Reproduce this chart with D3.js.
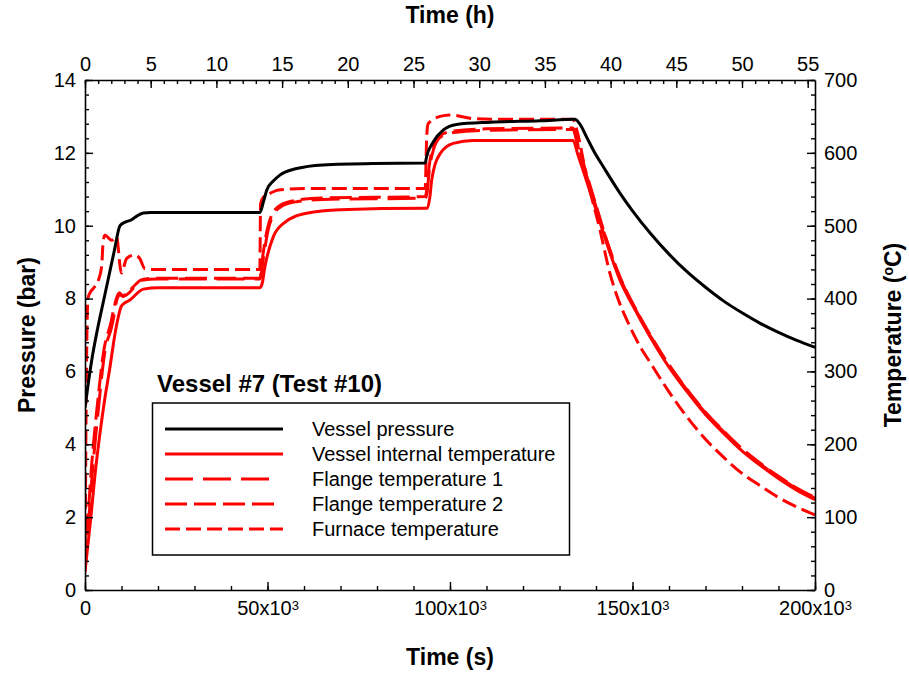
<!DOCTYPE html>
<html>
<head>
<meta charset="utf-8">
<script src="https://cdn.jsdelivr.net/npm/d3@7"></script>
<style>
  body { margin: 0; background: #fff; }
  text { font-family: "Liberation Sans", Arial, sans-serif; fill: #000; }
</style>
</head>
<body>
<svg id="chart" width="909" height="674"></svg>
<script>
// ---- data (time in s, pressure in bar, temperatures in degC) ----
const timeP = [0, 800, 2000, 3500, 5000, 6500, 8000, 9600, 11000, 12500, 14000, 16000, 18000, 30000, 47900,
  49000, 49800, 51500, 53400, 58000, 65200, 79000, 93200, 93600, 95400, 98200, 101800, 111000, 124700, 134200,
  135500, 137400, 139500, 142000, 146600, 150000, 155000, 160000, 165000, 170000, 175000, 180000, 185000,
  190000, 195000, 200000];
const pressure = [5.0, 5.6, 6.4, 7.2, 7.9, 8.6, 9.3, 10.0, 10.1, 10.15, 10.25, 10.35, 10.36, 10.36, 10.36,
  10.7, 10.98, 11.22, 11.39, 11.57, 11.67, 11.71, 11.72, 11.9, 12.3, 12.63, 12.78, 12.84, 12.88, 12.92,
  12.8, 12.44, 12.03, 11.62, 10.89, 10.41, 9.78, 9.22, 8.73, 8.31, 7.93, 7.61, 7.32,
  7.07, 6.85, 6.66];

const timeInt = [0, 1500, 3000, 4100, 5500, 6850, 8000, 9000, 10000, 12300, 16000, 20000, 47900,
  48500, 49300, 51600, 54300, 60700, 69900, 92700, 93800, 94500, 95000, 97300, 100900, 106400, 133700,
  135000, 137000, 140000, 143000, 146600, 150000, 155000, 160000, 165000, 170000, 175000, 180000,
  185000, 190000, 195000, 200000];
const tempInt = [25, 95, 170, 215, 265, 306, 345, 372, 390, 398, 413, 415, 415,
  420, 444, 485, 503, 517, 522, 524, 524, 540, 563, 599, 613, 617, 617,
  598, 568, 522, 475, 425, 391, 346, 306, 272, 241, 215, 191,
  171, 153, 137, 124];

const timeF1 = [0, 800, 2000, 3500, 5500, 7300, 8200, 8700, 9600, 10500, 12300, 14100, 15500, 20000, 47900,
  49000, 50000, 51600, 54000, 58000, 65000, 93200, 93700, 94300, 95500, 97500, 101000, 110000, 133700,
  135000, 137000, 140000, 143000, 146600, 150000, 155000, 160000, 165000, 170000, 175000, 180000,
  185000, 190000, 195000, 200000];
const tempF1 = [30, 80, 160, 240, 329, 361, 384, 398, 405, 403, 409, 419, 425, 427, 427,
  460, 490, 515, 527, 533, 536, 538, 545, 575, 605, 622, 628, 631, 632,
  610, 575, 526, 478, 428, 393, 348, 308, 274, 243, 217, 193,
  173, 155, 139, 126];

const timeF2 = [0, 700, 1800, 3300, 5200, 7000, 8000, 8600, 9400, 10300, 12000, 14000, 15500, 20000, 47900,
  48800, 49800, 51400, 53800, 58000, 65000, 93200, 93600, 94200, 95300, 97300, 101000, 110000, 133700,
  135000, 137000, 140000, 143000, 146600, 150000, 155000, 160000, 165000, 170000, 175000, 180000,
  185000, 190000, 195000, 200000];
const tempF2 = [35, 90, 170, 250, 330, 365, 388, 400, 408, 404, 410, 420, 426, 428, 428,
  462, 492, 517, 529, 535, 538, 540, 548, 578, 608, 624, 630, 633, 634,
  612, 578, 528, 479, 429, 394, 349, 309, 275, 244, 218, 194,
  174, 156, 140, 127];

const timeFur = [0, 400, 800, 1500, 2300, 3650, 4560, 5000, 5480, 7300, 8700, 9100, 9600, 10000, 11400,
  13700, 15000, 16400, 18000, 47900, 48100, 49000, 50500, 53000, 60000, 93200, 93600, 94000, 97300,
  100000, 106400, 115000, 133700, 134800, 137400, 141100, 143800, 146000, 148500, 152000, 155000,
  160000, 165000, 170000, 175000, 180000, 185000, 190000, 195000, 200000];
const tempFur = [25, 300, 400, 409, 414, 425, 444, 480, 487, 480, 485, 470, 444, 435, 455,
  460, 455, 441, 440, 440, 530, 540, 544, 549, 551, 551, 620, 640, 650,
  652, 647, 646, 646, 630, 568, 494, 435, 400, 370, 335, 311,
  272, 237, 207, 182, 160, 143, 127, 114, 103];

// ---- ticks and labels ----
const secTicks = [0, 50000, 100000, 150000, 200000];
const secMinor = d3.range(0, 200001, 10000);
const hourTicks = [0, 5, 10, 15, 20, 25, 30, 35, 40, 45, 50, 55];
const hourMinor = d3.range(0, 56, 1);
const pressureTicks = [0, 2, 4, 6, 8, 10, 12, 14];
const pressureMinor = d3.range(0, 14.01, 0.4);
const tempTicks = [0, 100, 200, 300, 400, 500, 600, 700];
const tempMinor = d3.range(0, 701, 20);

const legendTitle = "Vessel #7 (Test #10)";
const legendLabels = ["Vessel pressure", "Vessel internal temperature", "Flange temperature 1",
  "Flange temperature 2", "Furnace temperature"];

// ---- layout ----
const svg = d3.select("#chart");
const box = { left: 85, right: 815, top: 80, bottom: 590 };

const x = d3.scaleLinear().domain([0, 200000]).range([box.left, box.right]);
const xh = d3.scaleLinear().domain([0, 200000 / 3600]).range([box.left, box.right]);
const yP = d3.scaleLinear().domain([0, 14]).range([box.bottom, box.top]);
const yT = d3.scaleLinear().domain([0, 700]).range([box.bottom, box.top]);

svg.append("rect").attr("width", 909).attr("height", 674).attr("fill", "#fff");

svg.append("clipPath").attr("id", "clip")
  .append("rect").attr("x", box.left).attr("y", box.top)
  .attr("width", box.right - box.left).attr("height", box.bottom - box.top);

// series
const series = [
  { t: timeP, v: pressure, y: yP, color: "#000", dash: null },
  { t: timeInt, v: tempInt, y: yT, color: "#ff0000", dash: null },
  { t: timeF1, v: tempF1, y: yT, color: "#ff0000", dash: "28,10" },
  { t: timeF2, v: tempF2, y: yT, color: "#ff0000", dash: "22,7" },
  { t: timeFur, v: tempFur, y: yT, color: "#ff0000", dash: "15,6" }
];

const plot = svg.append("g").attr("clip-path", "url(#clip)");
// temperatures first, pressure on top
[4, 3, 2, 1, 0].forEach(i => {
  const s = series[i];
  const pts = s.t.map((t, j) => [t, s.v[j]]);
  const line = d3.line()
    .x(d => x(d[0]))
    .y(d => s.y(d[1]))
    .curve(d3.curveMonotoneX);
  plot.append("path")
    .datum(pts)
    .attr("d", line)
    .attr("fill", "none")
    .attr("stroke", s.color)
    .attr("stroke-width", 3)
    .attr("stroke-dasharray", s.dash);
});

// ---- axes ----
function styleAxis(g) {
  g.select(".domain").attr("stroke", "#000").attr("stroke-width", 1.6);
  g.selectAll(".tick line").attr("stroke", "#000").attr("stroke-width", 1.4);
  g.selectAll(".tick text").attr("font-size", 20).attr("fill", "#000")
    .attr("font-family", "'Liberation Sans', Arial, sans-serif");
}
function minorTicks(axis, vals, pos) {
  svg.append("g").attr("transform", pos)
    .call(axis.tickValues(vals).tickSizeInner(-4).tickSizeOuter(0).tickFormat(""))
    .call(g => g.select(".domain").remove())
    .selectAll(".tick line").attr("stroke", "#000").attr("stroke-width", 1.4);
}

// bottom
minorTicks(d3.axisBottom(x), secMinor, `translate(0,${box.bottom})`);
const gx = svg.append("g").attr("transform", `translate(0,${box.bottom})`)
  .call(d3.axisBottom(x).tickValues(secTicks).tickSizeInner(-8).tickSizeOuter(0).tickPadding(11)
    .tickFormat(d => d === 0 ? "0" : ""))
  .call(styleAxis);
gx.selectAll(".tick text").each(function (d) {
  if (d === 0) return;
  const t = d3.select(this);
  t.append("tspan").text((d / 1000) + "x10");
  t.append("tspan").text("3").attr("font-size", 13).attr("dy", "-0.38em");
});

// top
minorTicks(d3.axisTop(xh), hourMinor, `translate(0,${box.top})`);
svg.append("g").attr("transform", `translate(0,${box.top})`)
  .call(d3.axisTop(xh).tickValues(hourTicks).tickSizeInner(-8).tickSizeOuter(0).tickPadding(9))
  .call(styleAxis);

// left
minorTicks(d3.axisLeft(yP), pressureMinor, `translate(${box.left},0)`);
svg.append("g").attr("transform", `translate(${box.left},0)`)
  .call(d3.axisLeft(yP).tickValues(pressureTicks).tickSizeInner(-8).tickSizeOuter(0).tickPadding(9))
  .call(styleAxis);

// right
minorTicks(d3.axisRight(yT), tempMinor, `translate(${box.right},0)`);
svg.append("g").attr("transform", `translate(${box.right},0)`)
  .call(d3.axisRight(yT).tickValues(tempTicks).tickSizeInner(-8).tickSizeOuter(0).tickPadding(9))
  .call(styleAxis);

// axis titles
svg.append("text").attr("x", 450).attr("y", 23).attr("text-anchor", "middle")
  .attr("font-size", 23).attr("font-weight", "bold").text("Time (h)");
svg.append("text").attr("x", 450).attr("y", 665).attr("text-anchor", "middle")
  .attr("font-size", 23).attr("font-weight", "bold").text("Time (s)");
svg.append("text").attr("transform", "translate(35,335) rotate(-90)").attr("text-anchor", "middle")
  .attr("font-size", 23).attr("font-weight", "bold").text("Pressure (bar)");
const tt = svg.append("text").attr("transform", "translate(901,335) rotate(-90)").attr("text-anchor", "middle")
  .attr("font-size", 23).attr("font-weight", "bold");
tt.append("tspan").text("Temperature (");
tt.append("tspan").text("o").attr("font-size", 14).attr("dy", "-0.6em");
tt.append("tspan").text("C)").attr("dy", "0.38em");

// ---- legend ----
svg.append("text").attr("x", 157).attr("y", 392)
  .attr("font-size", 24).attr("font-weight", "bold").text(legendTitle);
svg.append("rect").attr("x", 152.5).attr("y", 403).attr("width", 417).attr("height", 152)
  .attr("fill", "#fff").attr("stroke", "#000").attr("stroke-width", 1.5);
const legendEnds = [283, 283, 270, 277, 283];
legendLabels.forEach((lab, i) => {
  const yy = 429 + i * 25;
  svg.append("line").attr("x1", 165).attr("x2", legendEnds[i]).attr("y1", yy).attr("y2", yy)
    .attr("stroke", series[i].color).attr("stroke-width", 3)
    .attr("stroke-dasharray", series[i].dash);
  svg.append("text").attr("x", 312).attr("y", yy + 7).attr("font-size", 20).text(lab);
});
</script>
</body>
</html>
